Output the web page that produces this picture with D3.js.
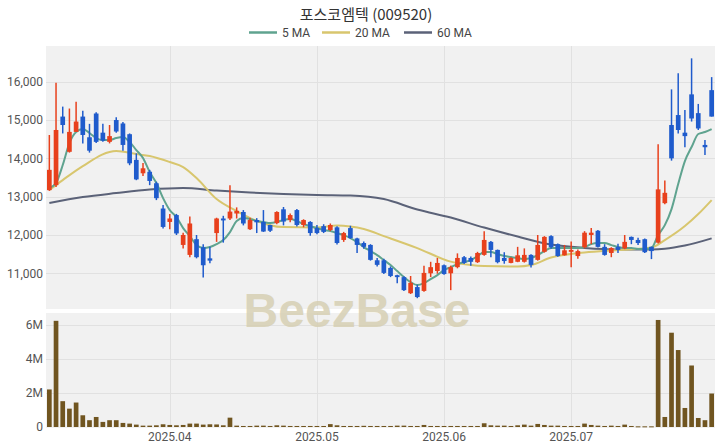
<!DOCTYPE html>
<html><head><meta charset="utf-8">
<script src="https://cdn.jsdelivr.net/npm/d3@7"></script>
<style>html,body{margin:0;padding:0;background:#fff;} svg{display:block;}</style>
</head><body><svg id="c" width="720" height="448"></svg>
<script>
const dates = [
"2025-03-06","2025-03-07","2025-03-10","2025-03-11","2025-03-12","2025-03-13","2025-03-14","2025-03-17","2025-03-18","2025-03-19",
"2025-03-20","2025-03-21","2025-03-24","2025-03-25","2025-03-26","2025-03-27","2025-03-28","2025-03-31",
"2025-04-01","2025-04-02","2025-04-03","2025-04-04","2025-04-07","2025-04-08","2025-04-09","2025-04-10","2025-04-11","2025-04-14",
"2025-04-15","2025-04-16","2025-04-17","2025-04-18","2025-04-21","2025-04-22","2025-04-23","2025-04-24","2025-04-25","2025-04-28",
"2025-04-29","2025-04-30",
"2025-05-02","2025-05-07","2025-05-08","2025-05-09","2025-05-12","2025-05-13","2025-05-14","2025-05-15","2025-05-16","2025-05-19",
"2025-05-20","2025-05-21","2025-05-22","2025-05-23","2025-05-26","2025-05-27","2025-05-28","2025-05-29","2025-05-30",
"2025-06-02","2025-06-04","2025-06-05","2025-06-09","2025-06-10","2025-06-11","2025-06-12","2025-06-13","2025-06-16","2025-06-17",
"2025-06-18","2025-06-19","2025-06-20","2025-06-23","2025-06-24","2025-06-25","2025-06-26","2025-06-27","2025-06-30",
"2025-07-01","2025-07-02","2025-07-03","2025-07-04","2025-07-07","2025-07-08","2025-07-09","2025-07-10","2025-07-11","2025-07-14",
"2025-07-15","2025-07-16","2025-07-17","2025-07-18","2025-07-21","2025-07-22","2025-07-23","2025-07-24","2025-07-25","2025-07-28",
"2025-07-29","2025-07-30"];

const open = [13170,13300,15090,14170,14690,15090,14550,15170,14670,14430,15000,14910,14630,13960,13610,13650,13350,12690,12340,12520,
11740,11480,11890,11680,11390,12050,12430,12430,12560,12600,12150,12390,12340,12260,12310,12670,12390,12650,12260,12340,
12180,12230,12130,12200,11870,12180,11910,11790,11740,11340,11340,11140,10950,10900,10480,10640,10540,11000,11060,11210,
11000,11160,11420,11400,11290,11480,11820,11610,11400,11270,11300,11300,11480,11350,11560,11970,11760,11470,11560,11450,
11680,12000,12110,11690,11530,11690,11650,11950,11870,11890,11690,11800,12830,14870,15130,14670,15670,15180,14350,15780];
const high = [14610,15970,15350,15300,15480,15240,14900,15200,14900,14870,15070,14950,14650,14130,13880,13700,13390,12780,12550,12550,
12060,12480,12000,11760,11690,12450,12500,13300,12720,12650,12450,12440,12650,12270,12620,12730,12560,12680,12410,12360,
12260,12280,12300,12230,12080,12240,11930,11830,11760,11400,11380,11180,10960,10920,10930,10700,11200,11300,11400,11230,
11200,11520,11450,11440,11560,12100,11840,11620,11550,11420,11690,11650,11500,12000,11970,11990,11780,11740,11830,11620,
12100,12180,12130,11760,11680,11770,12000,11960,11930,11910,11700,14370,13420,15800,16220,15260,16610,15420,14480,16120];
const low = [13150,13250,14650,14150,14690,14390,14150,14400,14430,14390,14670,14200,13820,13430,13540,13300,12910,12170,12150,12000,
11650,11420,11390,10890,11260,11820,11800,12390,12430,12250,12130,12050,12080,12080,12280,12250,12330,12220,12200,11980,
12020,12050,12100,11750,11820,11900,11530,11640,11330,11180,10980,10900,10740,10540,10460,10350,10520,10900,10990,10960,
10560,11130,11240,11200,11270,11460,11420,11260,11250,11260,11290,11280,11150,11330,11540,11640,11430,11460,11160,11380,
11650,11760,11670,11460,11420,11530,11630,11760,11740,11530,11370,11780,12800,13940,14650,14290,14960,14740,14090,15090];
const close = [13700,14740,14870,14690,14960,14610,14200,14430,14460,14580,14700,14350,13870,13450,13740,13410,12960,12210,12430,12040,
12000,12300,11420,11210,11330,12430,12380,12610,12630,12300,12390,12330,12090,12110,12600,12350,12520,12260,12390,12050,
12050,12080,12260,11790,12050,11920,11740,11690,11350,11220,11010,10930,10900,10560,10750,10380,11010,11160,11270,10980,
11160,11400,11270,11300,11530,11870,11610,11290,11320,11400,11470,11480,11220,11740,11950,11680,11450,11600,11610,11580,
12060,12060,11690,11480,11660,11610,11820,11870,11790,11550,11580,13190,13100,14000,14740,14580,15040,14780,14290,15090];
const volume = [2210000,6250000,1520000,1080000,1440000,690000,400000,590000,300000,400000,
400000,240000,200000,140000,80000,80000,100000,160000,120000,100000,
120000,200000,200000,140000,160000,150000,100000,550000,80000,60000,
60000,80000,80000,60000,100000,80000,60000,60000,60000,60000,
60000,60000,170000,100000,60000,60000,60000,70000,60000,60000,
60000,60000,80000,80000,60000,60000,120000,60000,60000,60000,
60000,60000,60000,60000,60000,220000,100000,80000,80000,60000,
100000,140000,80000,180000,120000,80000,80000,60000,60000,60000,
200000,120000,80000,60000,80000,60000,140000,60000,40000,40000,
40000,6300000,590000,5550000,4530000,1120000,3620000,530000,400000,1970000];

const ma5 = [13225,13355,13825,14400,14687,14765,14661,14530,14478,14478,14530,14556,14426,14217,14008,13643,13355,12963,12650,12467,
12180,11971,11736,11658,11684,11762,11867,12076,12363,12441,12415,12363,12337,12311,12337,12389,12415,12363,12285,12232,
12180,12128,12102,12050,11997,11919,11814,11684,11580,11475,11345,11214,11058,10901,10770,10692,10744,10848,10953,11084,
11162,11240,11292,11345,11449,11553,11553,11501,11449,11423,11397,11371,11397,11475,11580,11658,11658,11658,11658,11658,
11684,11762,11788,11788,11736,11684,11658,11658,11632,11632,11658,11997,12258,12676,13329,13929,14295,14635,14687,14765];
const ma20Idx = [0,2,5,10,13,15,18,20,22,25,28,30,35,40,43,45,47,50,55,60,63,65,70,72,75,80,85,90,92,95,97,99];
const ma20 = [13172,13433,13799,14191,14112,14060,13903,13773,13486,12937,12624,12441,12206,12198,12245,12219,12154,11971,11658,11305,11214,11188,11175,11214,11410,11540,11606,11671,11867,12232,12546,12911];
const ma60Idx = [0,5,10,15,20,25,30,35,40,45,50,55,60,65,70,75,80,85,90,92,95,99];
const ma60 = [12833,12990,13094,13185,13225,13159,13107,13068,13042,13029,12937,12663,12454,12193,11958,11749,11663,11624,11624,11640,11723,11911];

const priceTicks = [11000,12000,13000,14000,15000,16000];
const volTicks = [0,2000000,4000000,6000000];
const volTickLabels = ["0","2M","4M","6M"];
const monthTicks = ["2025-04-01","2025-05-02","2025-06-02","2025-07-01"];
const monthLabels = ["2025.04","2025.05","2025.06","2025.07"];
const legendNames = ["5 MA","20 MA","60 MA"];

const svg = d3.select("#c");
const L = 46, R = 715, mTop = 46, mBot = 309, vTop = 313, vBot = 427;
const colUp = "#e8401c", colDown = "#1f5bcc", colVol = "#705520";
const maColors = ["#5fa38f","#d8c66e","#5b6278"];
const fontNum = "Roboto, 'Noto Sans', sans-serif";

svg.append("rect").attr("width",720).attr("height",448).attr("fill","#fff");

const x = d3.scaleBand().domain(dates).range([L,R]).paddingInner(0.3).paddingOuter(0.15);
const bw = x.bandwidth();
const cx = d => x(d) + bw/2;
const y = d3.scaleLinear().domain([10068,16932]).range([mBot,mTop]);
const yv = d3.scaleLinear().domain([0,6710000]).range([vBot,vTop]);

// panels
svg.append("rect").attr("x",L).attr("y",mTop).attr("width",R-L).attr("height",mBot-mTop).attr("fill","#f1f1f1");
svg.append("rect").attr("x",L).attr("y",vTop).attr("width",R-L).attr("height",vBot-vTop+1).attr("fill","#f1f1f1");

const grid = svg.append("g").attr("stroke","#e1e1e1").attr("stroke-width",1);
priceTicks.forEach(t => grid.append("line").attr("x1",L).attr("x2",R).attr("y1",Math.round(y(t))+0.5).attr("y2",Math.round(y(t))+0.5));
volTicks.slice(1).forEach(t => grid.append("line").attr("x1",L).attr("x2",R).attr("y1",Math.round(yv(t))+0.5).attr("y2",Math.round(yv(t))+0.5));
monthTicks.forEach(t => {
  const xx = Math.round(cx(t))+0.5;
  grid.append("line").attr("x1",xx).attr("x2",xx).attr("y1",mTop).attr("y2",mBot);
  grid.append("line").attr("x1",xx).attr("x2",xx).attr("y1",vTop).attr("y2",vBot);
});

// axes
const ya = svg.append("g").attr("transform",`translate(${L},0)`)
  .call(d3.axisLeft(y).tickValues(priceTicks).tickFormat(d3.format(",")).tickSize(0).tickPadding(3));
const yva = svg.append("g").attr("transform",`translate(${L},0)`)
  .call(d3.axisLeft(yv).tickValues(volTicks).tickFormat((d,i)=>volTickLabels[i]).tickSize(0).tickPadding(3));
const xa = svg.append("g").attr("transform",`translate(0,${vBot})`)
  .call(d3.axisBottom(x).tickValues(monthTicks).tickFormat((d,i)=>monthLabels[i]).tickSize(0).tickPadding(5));
[ya,yva,xa].forEach(g => {
  g.select(".domain").remove();
  g.selectAll("text").attr("font-family",fontNum).attr("font-size",12).attr("fill","#555");
});

// watermark
svg.append("text").attr("x",357).attr("y",327).attr("text-anchor","middle")
  .attr("font-family","'Liberation Sans', Arial, sans-serif").attr("font-weight","bold").attr("font-size",48)
  .attr("fill","#d6cfb3").attr("opacity",0.85).text("BeezBase");

// MA lines
const lineAll = d3.line().x((d,i)=>cx(dates[i])).y(d=>y(d)).curveMonotoneX;
const mg = svg.append("g").attr("fill","none").attr("stroke-width",2);
const lineK = (idx) => d3.line().x((d,i)=>cx(dates[idx[i]])).y(d=>y(d)).curve(d3.curveMonotoneX);
mg.append("path").attr("d",lineK(ma60Idx)(ma60)).attr("stroke",maColors[2]);
mg.append("path").attr("d",lineK(ma20Idx)(ma20)).attr("stroke",maColors[1]);
mg.append("path").attr("d",d3.line().x((d,i)=>cx(dates[i])).y(d=>y(d)).curve(d3.curveMonotoneX)(ma5)).attr("stroke",maColors[0]);

// candles
const cg = svg.append("g");
dates.forEach((d,i) => {
  const up = close[i] >= open[i];
  const col = up ? colUp : colDown;
  cg.append("line").attr("x1",cx(d)).attr("x2",cx(d)).attr("y1",y(high[i])).attr("y2",y(low[i]))
    .attr("stroke",col).attr("stroke-width",1.5);
  const top = y(Math.max(open[i],close[i])), bot = y(Math.min(open[i],close[i]));
  cg.append("rect").attr("x",x(d)).attr("width",bw).attr("y",top).attr("height",Math.max(1.2,bot-top)).attr("fill",col);
});

// volume
svg.append("g").selectAll("rect").data(volume).join("rect")
  .attr("x",(v,i)=>x(dates[i])).attr("width",bw)
  .attr("y",v=>yv(v)).attr("height",v=>Math.max(1,vBot-yv(v))).attr("fill",colVol);

// title
svg.append("text").attr("x",366).attr("y",20).attr("text-anchor","middle")
  .attr("font-family","'Noto Sans CJK KR', 'Noto Sans', sans-serif").attr("font-size",15).attr("fill","#333")
  .text("포스코엠텍 (009520)");

// legend
const legX = [249,322,404];
const lg = svg.append("g");
legendNames.forEach((n,i) => {
  lg.append("line").attr("x1",legX[i]).attr("x2",legX[i]+28).attr("y1",32.5).attr("y2",32.5)
    .attr("stroke",maColors[i]).attr("stroke-width",2.5);
  lg.append("text").attr("x",legX[i]+33).attr("y",36.5).attr("font-family",fontNum).attr("font-size",12)
    .attr("fill","#444").text(n);
});
</script></body></html>
